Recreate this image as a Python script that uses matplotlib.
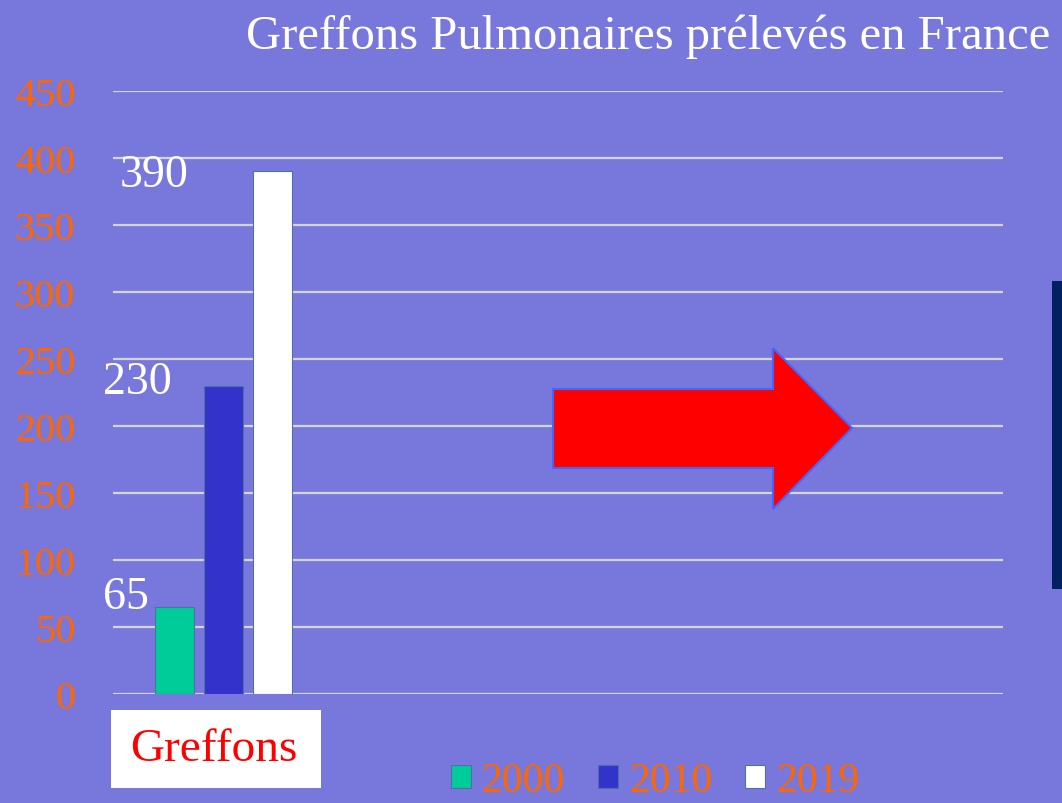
import matplotlib
matplotlib.use('Agg')
import matplotlib.pyplot as plt
from matplotlib.patches import Patch, Polygon, Rectangle

plt.rcParams['font.family'] = ['Liberation Serif', 'DejaVu Serif']

# donnees
categories = ['Greffons']
years = ['2000', '2010', '2019']
values = [65, 230, 390]
bar_colors = ['#00CC99', '#3333CC', '#FFFFFF']
label_offsets = [(-48, 10), (-86, 4), (-119, -3)]  # pixels, placement des etiquettes
yticks = [0, 50, 100, 150, 200, 250, 300, 350, 400, 450]

bg = '#7878DC'
orange = '#FF6600'

fig = plt.figure(figsize=(10.62, 8.04), dpi=100)
fig.patch.set_facecolor(bg)
ax = fig.add_axes([113 / 1062, 109 / 804, 890 / 1062, 603 / 804])
ax.set_facecolor(bg)

spacing = 1.0
width = 0.79
for i, (yr, v, c) in enumerate(zip(years, values, bar_colors)):
    x = (i - 1) * spacing
    ax.bar(x, v, width=width, color=c, edgecolor='#4f6fa8', linewidth=0.8, zorder=3)
    ax.annotate(str(v), (x, v), xytext=label_offsets[i], textcoords='offset pixels',
                ha='center', va='center', color='white', fontsize=33, zorder=4)

ax.set_xlim(-2.24, 15.81)
ax.set_ylim(0, 450)
ax.set_yticks(yticks)
ax.set_xticks([])
ax.tick_params(axis='y', length=0, pad=27, labelsize=29, labelcolor=orange)
for s in ax.spines.values():
    s.set_visible(False)
ax.grid(axis='y', color='#D4D4D4', linewidth=1.6, zorder=1)
ax.set_axisbelow(True)

# titre
fig.text(648 / 1062, 1 - 37 / 804, 'Greffons Pulmonaires prélevés en France',
         ha='center', va='center', color='white', fontsize=35)

# boite categorie
fig.patches.append(Rectangle((111 / 1062, 1 - 789 / 804), 210 / 1062, 78 / 804,
                             transform=fig.transFigure, facecolor='white', edgecolor='none'))
fig.text(214 / 1062, 1 - 750 / 804, categories[0], ha='center', va='center',
         color='red', fontsize=34)

# fleche
pts = [(553, 390), (773, 390), (773, 349), (852, 429), (773, 510), (773, 469), (553, 469)]
arrow = Polygon([(px / 1062, 1 - py / 804) for px, py in pts], closed=True,
                transform=fig.transFigure, facecolor='red', edgecolor='#4466FF', linewidth=1.5)
fig.patches.append(arrow)

# barre sombre a droite
fig.patches.append(Rectangle((1052 / 1062, 1 - 590 / 804), 12 / 1062, 308 / 804,
                             transform=fig.transFigure, facecolor='#002060', edgecolor='none'))

# legende
handles = [Patch(facecolor=c, edgecolor='#4f6fa8', linewidth=0.8) for c in bar_colors]
leg = fig.legend(handles, years, loc='center', bbox_to_anchor=(655 / 1062, 1 - 782 / 804),
                 ncol=3, frameon=False, fontsize=30, handlelength=0.48, handleheight=0.5,
                 handletextpad=0.25, columnspacing=0.8, labelcolor=orange,
                 borderpad=0.1)

fig.savefig('out.png', dpi=100, facecolor=bg)
